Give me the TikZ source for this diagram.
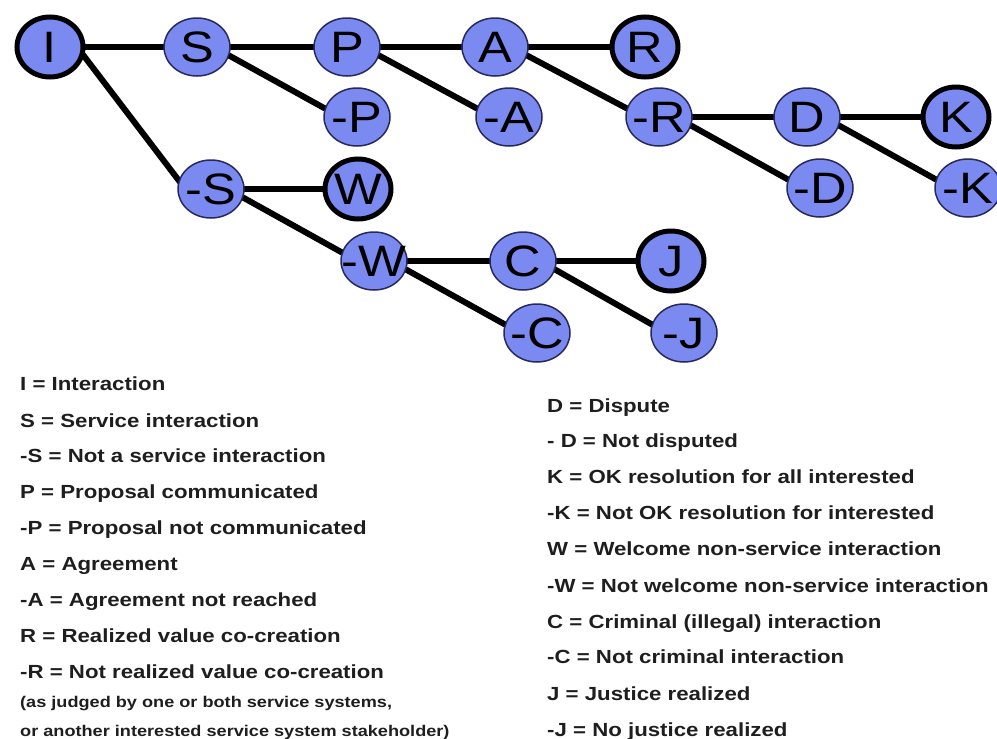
\documentclass[tikz,border=0pt]{standalone}
\usepackage{fontspec}
\setmainfont{Liberation Sans}
\newfontfamily\nodefont[FakeStretch=1.15]{Liberation Sans}
\newfontfamily\legfont[FakeStretch=1.17]{Liberation Sans}
\usetikzlibrary{shapes.geometric,backgrounds}
\definecolor{nodefill}{RGB}{122,138,240}
\definecolor{nodeedge}{RGB}{40,40,90}
\definecolor{legtext}{RGB}{30,30,30}
\begin{document}
\begin{tikzpicture}[x=1pt,y=-1pt,
  st/.style={ellipse, fill=nodefill, draw=nodeedge, line width=1.5pt,
    minimum width=66pt, minimum height=58pt, inner sep=0pt,
    font=\nodefont\fontsize{44}{44}\selectfont, text height=31pt, text depth=0pt},
  term/.style={st, draw=black, line width=5pt, minimum width=66pt, minimum height=60pt},
  edge/.style={line width=6pt, black, shorten <=-3pt, shorten >=-3pt},
  leg/.style={anchor=base west, font=\legfont\bfseries\fontsize{19}{19}\selectfont,
    text=legtext, inner sep=0pt},
  legsmall/.style={leg, font=\legfont\bfseries\fontsize{15.5}{15.5}\selectfont}
]
\useasboundingbox (0,0) rectangle (997,739);

% tree nodes
\node[term] (I)  at (50,47)  {\makebox[0pt]{I}};
\node[st]   (S)  at (197,47) {\makebox[0pt]{S}};
\node[st]   (P)  at (347,47) {\makebox[0pt]{P}};
\node[st]   (A)  at (495,47) {\makebox[0pt]{A}};
\node[term] (R)  at (645,47) {\makebox[0pt]{R}};
\node[st]   (nP) at (357,117) {\makebox[0pt]{-P}};
\node[st]   (nA) at (509,117) {\makebox[0pt]{-A}};
\node[st]   (nR) at (659,117) {\makebox[0pt]{-R}};
\node[st]   (D)  at (807,117) {\makebox[0pt]{D}};
\node[term] (K)  at (956,117) {\makebox[0pt]{K}};
\node[st]   (nS) at (211,189) {\makebox[0pt]{-S}};
\node[term] (W)  at (358,189) {\makebox[0pt]{W}};
\node[st]   (nD) at (820,188) {\makebox[0pt]{-D}};
\node[st]   (nK) at (968,188) {\makebox[0pt]{-K}};
\node[st]   (nW) at (374,261) {\makebox[0pt]{-W}};
\node[st]   (C)  at (523,261) {\makebox[0pt]{C}};
\node[term] (J)  at (671,261) {\makebox[0pt]{J}};
\node[st]   (nC) at (537,333) {\makebox[0pt]{-C}};
\node[st]   (nJ) at (684,333) {\makebox[0pt]{-J}};

\begin{pgfonlayer}{background}
\fill[white] (0,0) rectangle (997,739);
\draw[edge] (I.east) -- (S.west);
\draw[edge] (I.-15) -- (nS.165);
\draw[edge] (S.east) -- (P.west);
\draw[edge] (S.-15) -- (nP.165);
\draw[edge] (P.east) -- (A.west);
\draw[edge] (P.-15) -- (nA.165);
\draw[edge] (A.east) -- (R.west);
\draw[edge] (A.-15) -- (nR.165);
\draw[edge] (nR.east) -- (D.west);
\draw[edge] (nR.-15) -- (nD.165);
\draw[edge] (D.east) -- (K.west);
\draw[edge] (D.-15) -- (nK.165);
\draw[edge] (nS.east) -- (W.west);
\draw[edge] (nS.-15) -- (nW.165);
\draw[edge] (nW.east) -- (C.west);
\draw[edge] (nW.-15) -- (nC.165);
\draw[edge] (C.east) -- (J.west);
\draw[edge] (C.-15) -- (nJ.165);
\end{pgfonlayer}

% legend, left column
\node[leg] (l1) at (20,390) {I = Interaction};
\node[leg] (l2) at (20,427) {S = Service interaction};
\node[leg] (l3) at (20,462) {-S = Not a service interaction};
\node[leg] (l4) at (20,498) {P = Proposal communicated};
\node[leg] (l5) at (20,534) {-P = Proposal not communicated};
\node[leg] (l6) at (20,570) {A = Agreement};
\node[leg] (l7) at (20,606) {-A = Agreement not reached};
\node[leg] (l8) at (20,642) {R = Realized value co-creation};
\node[leg] (l9) at (20,678) {-R = Not realized value co-creation};
\node[legsmall] (l10) at (20,707) {(as judged by one or both service systems,};
\node[legsmall] (l11) at (20,736) {or another interested service system stakeholder)};

% legend, right column
\node[leg] (r1)  at (547,412) {D = Dispute};
\node[leg] (r2)  at (547,447) {- D = Not disputed};
\node[leg] (r3)  at (547,483) {K = OK resolution for all interested};
\node[leg] (r4)  at (547,519) {-K = Not OK resolution for interested};
\node[leg] (r5)  at (547,555) {W = Welcome non-service interaction};
\node[leg] (r6)  at (547,592) {-W = Not welcome non-service interaction};
\node[leg] (r7)  at (547,628) {C = Criminal (illegal) interaction};
\node[leg] (r8)  at (547,663) {-C = Not criminal interaction};
\node[leg] (r9)  at (547,700) {J = Justice realized};
\node[leg] (r10) at (547,736) {-J = No justice realized};
\end{tikzpicture}
\end{document}
